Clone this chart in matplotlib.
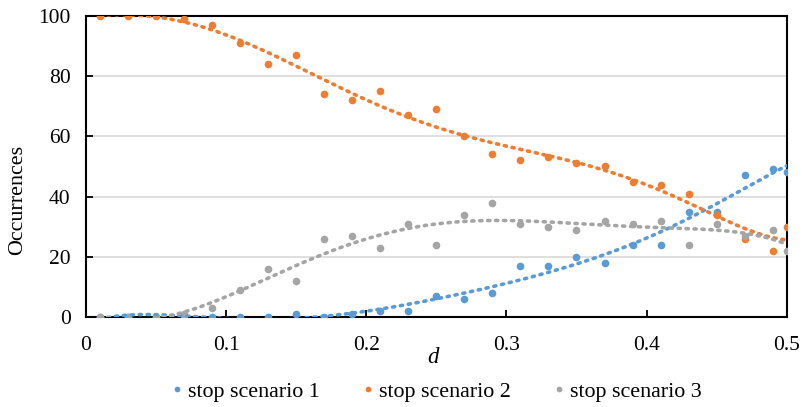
import numpy as np
import matplotlib
matplotlib.use("Agg")
import matplotlib.pyplot as plt

d = [0.01, 0.03, 0.05, 0.07, 0.09, 0.11, 0.13, 0.15, 0.17, 0.19, 0.21, 0.23, 0.25,
     0.27, 0.29, 0.31, 0.33, 0.35, 0.37, 0.39, 0.41, 0.43, 0.45, 0.47, 0.49, 0.50]
scenario1 = [0, 0, 0, 0, 0, 0, 0, 1, 0, 1, 2, 2, 7,
             6, 8, 17, 17, 20, 18, 24, 24, 35, 35, 47, 49, 48]
scenario2 = [100, 100, 100, 99, 97, 91, 84, 87, 74, 72, 75, 67, 69,
             60, 54, 52, 53, 51, 50, 45, 44, 41, 34, 26, 22, 30]
scenario3 = [0, 0, 0, 1, 3, 9, 16, 12, 26, 27, 23, 31, 24,
             34, 38, 31, 30, 29, 32, 31, 32, 24, 31, 27, 29, 22]
labels = ["stop scenario 1", "stop scenario 2", "stop scenario 3"]
colors = ["#5B9BD5", "#ED7D31", "#A5A5A5"]
trend_degree = 6

plt.rcParams['font.family'] = ['Liberation Serif', 'DejaVu Serif']

fig = plt.figure(figsize=(8.02, 4.07), dpi=100)
ax = fig.add_axes([0.107, 0.221, 0.874, 0.740])

x = np.array(d)
xs = np.linspace(x.min(), x.max(), 300)
handles = []
for ys, c, lab in zip([scenario1, scenario2, scenario3], colors, labels):
    h, = ax.plot(x, ys, 'o', color=c, markersize=5.5, label=lab, zorder=3,
                 markeredgewidth=0)
    handles.append(h)
for ys, c in zip([scenario1, scenario2, scenario3], colors):
    p = np.polyfit(x, np.array(ys, dtype=float), trend_degree)
    ax.plot(xs, np.polyval(p, xs), linestyle=(0, (0.6, 1.6)), color=c,
            linewidth=2.6, dash_capstyle='round', zorder=4)

ax.set_xlim(0, 0.5)
ax.set_ylim(0, 100)
ax.set_xticks([0, 0.1, 0.2, 0.3, 0.4, 0.5])
ax.set_xticklabels(["0", "0.1", "0.2", "0.3", "0.4", "0.5"])
ax.set_yticks([0, 20, 40, 60, 80, 100])
ax.yaxis.grid(True, color="#D9D9D9", linewidth=1.2)
ax.set_axisbelow(True)
for s in ax.spines.values():
    s.set_linewidth(1.5)
    s.set_color("black")
ax.tick_params(direction='in', length=5, width=1.3, labelsize=15.5)
ax.tick_params(axis='x', pad=14)
ax.tick_params(axis='y', pad=11)
ax.set_xlabel("d", fontsize=16.5, style='italic')
ax.xaxis.set_label_coords(0.495, -0.133)
ax.xaxis.label.set_va('center')
ax.set_ylabel("Occurrences", fontsize=15.8)
ax.yaxis.set_label_coords(-0.097, 0.39)
ax.yaxis.label.set_va('center')

fig.legend(handles=handles, loc='center', bbox_to_anchor=(0.545, 0.038), ncol=3,
           frameon=False, fontsize=15.8, handlelength=0.4, handletextpad=0.3,
           columnspacing=2.0, markerscale=0.75)

fig.savefig("out.png", dpi=100)
